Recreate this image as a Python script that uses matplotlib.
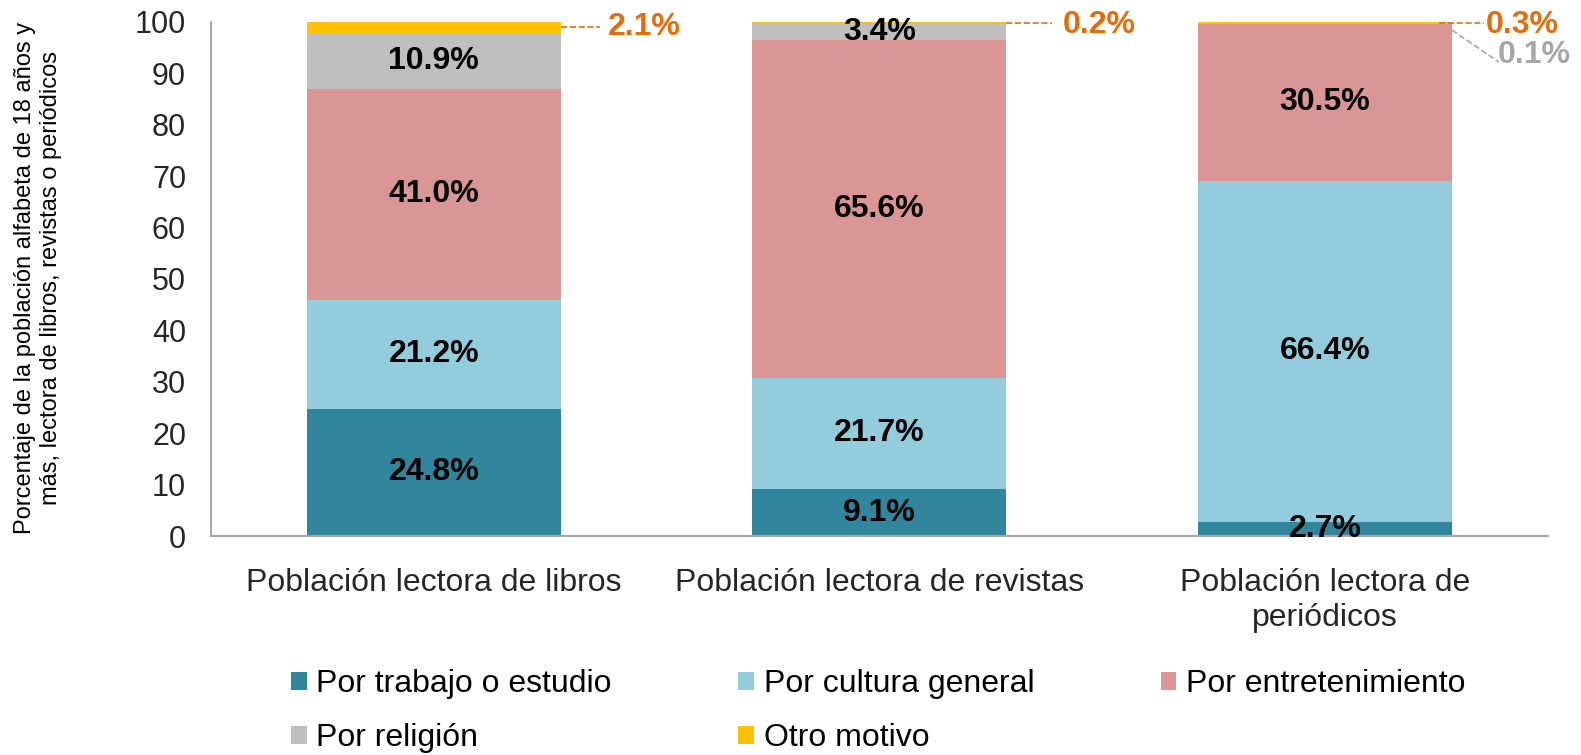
import matplotlib.pyplot as plt
import numpy as np

categorias = ["Población lectora de libros", "Población lectora de revistas",
              "Población lectora de\nperiódicos"]
series = ["Por trabajo o estudio", "Por cultura general", "Por entretenimiento",
          "Por religión", "Otro motivo"]
trabajo = [24.8, 9.1, 2.7]
cultura = [21.2, 21.7, 66.4]
entretenimiento = [41.0, 65.6, 30.5]
religion = [10.9, 3.4, 0.1]
otro = [2.1, 0.2, 0.3]

colores = ['#31859C', '#93CDDD', '#D99694', '#BFBFBF', '#FFC000']
NARANJA = '#E46C0A'
GRIS = '#A6A6A6'

plt.rcParams['font.family'] = ['Liberation Sans', 'DejaVu Sans']

fig = plt.figure(figsize=(15.81, 7.55), dpi=100)
ax = fig.add_axes([0.1335, 0.290, 0.8455, 0.681])

x = np.arange(len(categorias))
ancho = 0.57
valores = [trabajo, cultura, entretenimiento, religion, otro]
base = np.zeros(len(categorias))
barras = []
for i, (nombre, vals) in enumerate(zip(series, valores)):
    vals = np.array(vals)
    b = ax.bar(x, vals, ancho, bottom=base, color=colores[i], label=nombre)
    barras.append(b)
    # etiquetas dentro de las barras (menos las pequeñas)
    if i < 4:
        for j, v in enumerate(vals):
            if v >= 1:
                ax.text(x[j], base[j] + v / 2, f"{v:.1f}%", ha='center', va='center',
                        fontsize=23, fontweight='bold', color='black')
    base += vals

# Etiquetas externas con líneas guía
tope = np.array(trabajo) + np.array(cultura) + np.array(entretenimiento) + np.array(religion)
borde = ancho / 2
# libros: otro motivo
ax.plot([x[0] + borde, x[0] + 0.372], [tope[0] + otro[0] / 2] * 2, ls='--', color=NARANJA, lw=1.2)
ax.text(x[0] + 0.473, tope[0] + otro[0] / 2, f"{otro[0]:.1f}%", ha='center', va='center',
        fontsize=23, fontweight='bold', color=NARANJA)
# revistas: otro motivo
ax.plot([x[1] + borde, x[1] + 0.388], [99.8, 99.8], ls='--', color=NARANJA, lw=1.2)
ax.text(x[1] + 0.493, 99.4, f"{otro[1]:.1f}%", ha='center', va='center',
        fontsize=23, fontweight='bold', color=NARANJA)
# periodicos: otro motivo y religion
ax.plot([x[2] + 0.256, x[2] + 0.357], [99.85, 99.85], ls='--', color=NARANJA, lw=1.2)
ax.text(x[2] + 0.442, 99.4, f"{otro[2]:.1f}%", ha='center', va='center',
        fontsize=23, fontweight='bold', color=NARANJA)
ax.plot([x[2] + borde, x[2] + 0.39], [98.4, 92.2], ls='--', color=GRIS, lw=1.2)
ax.text(x[2] + 0.47, 93.6, f"{religion[2]:.1f}%", ha='center', va='center',
        fontsize=23, fontweight='bold', color=GRIS)

ax.set_xlim(-0.5, 2.5)
ax.set_ylim(0, 100)
ax.set_yticks(range(0, 101, 10))
ax.set_xticks(x)
ax.set_xticklabels(categorias, fontsize=23)
ax.tick_params(axis='y', length=0, pad=18, labelsize=22, colors='#262626')
ax.tick_params(axis='x', length=0, pad=23, colors='#262626')
for s in ['top', 'right']:
    ax.spines[s].set_visible(False)
for s in ['left', 'bottom']:
    ax.spines[s].set_color('#A6A6A6')
    ax.spines[s].set_linewidth(1.5)

fig.text(0.024, 0.632, "Porcentaje de la población alfabeta de 18 años y\nmás, lectora de libros, revistas o periódicos",
         rotation=90, ha='center', va='center', fontsize=17, linespacing=1.2)

# orden por filas: el legend de matplotlib llena por columnas
orden = [0, 3, 1, 4, 2]
fig.legend([barras[k] for k in orden], [series[k] for k in orden],
           loc='center left', bbox_to_anchor=(0.184, 0.058), ncol=3, frameon=False,
           fontsize=23, handlelength=0.5, handleheight=0.5, handletextpad=0.3,
           columnspacing=3.95, labelspacing=0.75, borderpad=0, borderaxespad=0)

fig.savefig("out.png", dpi=100)
